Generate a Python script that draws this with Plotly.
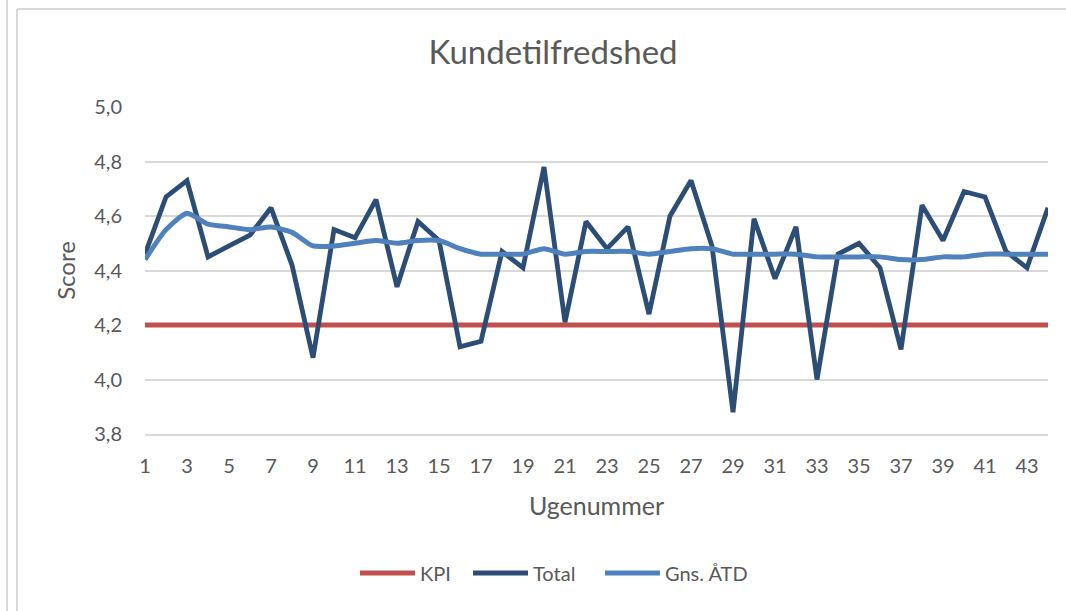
import plotly.graph_objects as go

weeks = list(range(1, 45))
kpi = [4.2] * 44
total = [4.46, 4.67, 4.73, 4.45, 4.49, 4.53, 4.63, 4.42, 4.08, 4.55,
         4.52, 4.66, 4.34, 4.58, 4.51, 4.12, 4.14, 4.47, 4.41, 4.78,
         4.21, 4.58, 4.48, 4.56, 4.24, 4.60, 4.73, 4.49, 3.88, 4.59,
         4.37, 4.56, 4.00, 4.46, 4.50, 4.41, 4.11, 4.64, 4.51, 4.69,
         4.67, 4.47, 4.41, 4.63]
gns_atd = [4.44, 4.55, 4.61, 4.57, 4.56, 4.55, 4.56, 4.54, 4.49, 4.49,
           4.50, 4.51, 4.50, 4.51, 4.51, 4.48, 4.46, 4.46, 4.46, 4.48,
           4.46, 4.47, 4.47, 4.47, 4.46, 4.47, 4.48, 4.48, 4.46, 4.46,
           4.46, 4.46, 4.45, 4.45, 4.45, 4.45, 4.44, 4.44, 4.45, 4.45,
           4.46, 4.46, 4.46, 4.46]
x_ticks = list(range(1, 45, 2))
y_ticks = [3.8, 4.0, 4.2, 4.4, 4.6, 4.8, 5.0]

FONT = "Lato"
GRAY = "#595959"
GRID = "#d9d9d9"

fig = go.Figure()
fig.add_trace(go.Scatter(x=weeks, y=kpi, name="KPI", mode="lines", legend="legend",
                         line=dict(color="#C0504D", width=5)))
fig.add_trace(go.Scatter(x=weeks, y=total, name="Total", mode="lines", legend="legend2",
                         line=dict(color="#2C4D75", width=4.8)))
fig.add_trace(go.Scatter(x=weeks, y=gns_atd, name="Gns. ÅTD", mode="lines", legend="legend3",
                         line=dict(color="#4F81BD", width=5, shape="spline", smoothing=0.6)))

L, R, T, B = 145, 18, 107, 177
W, H = 1066, 611
pw = W - L - R
ph = H - T - B

def px_x(p):
    return (p - L) / pw

def px_y(p):
    return (H - B - p) / ph

shapes = [
    dict(type="line", xref="paper", yref="paper", x0=px_x(7), x1=px_x(7),
         y0=px_y(-5), y1=px_y(620), line=dict(color=GRID, width=2)),
    dict(type="line", xref="paper", yref="paper", x0=px_x(17), x1=px_x(17),
         y0=px_y(9), y1=px_y(620), line=dict(color=GRID, width=2)),
    dict(type="line", xref="paper", yref="paper", x0=px_x(17), x1=px_x(1080),
         y0=px_y(9), y1=px_y(9), line=dict(color=GRID, width=2)),
]

def leg(px):
    return dict(orientation="h", x=px_x(px), xanchor="left",
                y=px_y(573), yanchor="middle", font=dict(size=20, color=GRAY),
                itemwidth=55, bgcolor="rgba(0,0,0,0)")

fig.update_layout(
    width=W, height=H,
    margin=dict(l=L, r=R, t=T, b=B),
    paper_bgcolor="white", plot_bgcolor="white",
    separators=",.",
    font=dict(family=FONT, color=GRAY, size=20),
    title=dict(text="Kundetilfredshed", font=dict(family=FONT, size=33, color=GRAY),
               x=553 / W, xref="container", xanchor="center",
               y=1 - 52 / H, yref="container", yanchor="middle"),
    showlegend=True,
    legend=leg(355),
    legend2=leg(468),
    legend3=leg(600),
    shapes=shapes,
)
fig.update_xaxes(range=[1, 44], tickmode="array", tickvals=x_ticks,
                 ticktext=[str(v) for v in x_ticks],
                 showgrid=False, zeroline=False, showline=True,
                 linecolor=GRID, linewidth=1.5, ticks="",
                 tickfont=dict(size=20, color=GRAY), ticklabelstandoff=13,
                 title=dict(text="Ugenummer", font=dict(size=25, color=GRAY), standoff=22))
fig.update_yaxes(range=[3.8, 5.0], tickmode="array", tickvals=y_ticks,
                 tickformat=".1f", showgrid=True, gridcolor=GRID, gridwidth=1.5,
                 zeroline=False, showline=False, ticks="",
                 tickfont=dict(size=20, color=GRAY), ticklabelstandoff=22,
                 title=dict(text="Score", font=dict(size=24, color=GRAY), standoff=11))

fig.write_html("out.html", config={"displayModeBar": False},
               post_script="document.body.style.margin='0';")
